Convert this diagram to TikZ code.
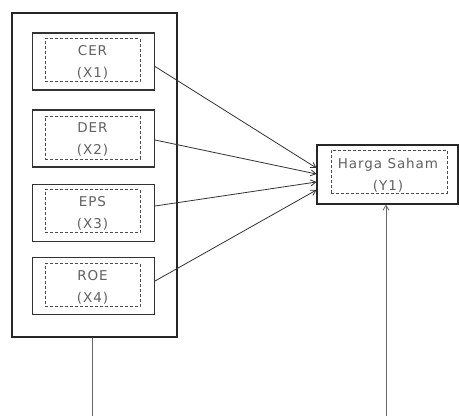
\documentclass[tikz,border=0pt]{standalone}
\usepackage{fontspec}
\setmainfont[LetterSpace=7]{DejaVu Sans}
\usetikzlibrary{arrows.meta,calc}
\begin{document}
\begin{tikzpicture}[x=1pt,y=-1pt,
  outerbox/.style={draw=black!85,line width=2.6pt,minimum width=165pt,minimum height=324pt,inner sep=0pt},
  varbox/.style={draw=black!80,line width=1.1pt,minimum width=122pt,minimum height=57pt,inner sep=0pt},
  dashbox/.style={draw=black!70,dashed,dash pattern=on 3pt off 2pt,line width=0.7pt,minimum width=95pt,minimum height=43pt,inner sep=0pt},
  lbl/.style={font=\fontsize{13.5}{22}\selectfont,text=black!62,align=center,inner sep=0pt},
  ybox/.style={draw=black!85,line width=1.1pt,minimum width=141pt,minimum height=59pt,inner sep=0pt},
  link/.style={draw=black!80,line width=0.8pt,-{Straight Barb[length=5pt,width=6pt]}},
  plain/.style={draw=black!60,line width=0.8pt}]
\useasboundingbox (0,0) rectangle (459,416);
\fill[white] (0,0) rectangle (459,416);
\node[outerbox] (outer) at (94.5,175) {};
\node[varbox] (cer) at (93.5,61.5) {};
\node[varbox] (der) at (93.5,138.5) {};
\node[varbox] (eps) at (93.5,213) {};
\node[varbox] (roe) at (93.5,286) {};
\node[dashbox] (cerd) at (92.5,60) {};
\node[dashbox] (derd) at (92.5,137.5) {};
\node[dashbox] (epsd) at (92.5,211) {};
\node[dashbox] (roed) at (92.5,285) {};
\node[lbl] (cert) at (92.5,62) {CER\\(X1)};
\node[lbl] (dert) at (92.5,139.5) {DER\\(X2)};
\node[lbl] (epst) at (92.5,213) {EPS\\(X3)};
\node[lbl] (roet) at (92.5,287) {ROE\\(X4)};
\node[ybox] (y) at (387.5,174.5) {};
\node[dashbox,minimum width=116pt] (yd) at (389,171.5) {};
\node[lbl] (yt) at (388,175) {Harga Saham\\(Y1)};
\draw[link] ([yshift=-5pt]cer.east) -- ([yshift=6.5pt]y.west);
\draw[link] ([yshift=-1.5pt]der.east) -- ([yshift=0.5pt]y.west);
\draw[link] ([yshift=7pt]eps.east) -- ([yshift=-7.5pt]y.west);
\draw[link] ([yshift=5pt]roe.east) -- ([yshift=-15.5pt]y.west);
\coordinate (b1) at (92,416);
\coordinate (b2) at (386,416);
\draw[plain] (outer.south -| b1) -- (b1);
\draw[plain,-{Straight Barb[length=5pt,width=6pt]}] (b2) -- (b2 |- y.south);
\end{tikzpicture}
\end{document}
